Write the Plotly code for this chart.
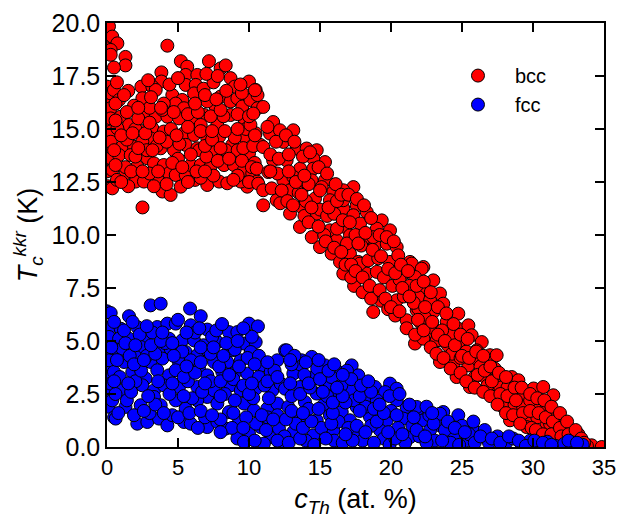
import plotly.graph_objects as go

# bcc points (c_Th in at.%, Tc in K)
bcc_points = [
    (0.0, 19.6), (0.1, 19.2), (0.05, 18.8), (0.0, 17.0), (0.05, 16.6), (0.0, 16.2), (0.1, 15.7),
    (0.0, 15.3), (0.05, 14.6), (0.0, 14.1), (0.1, 13.5), (0.0, 13.0), (0.05, 12.3),
    (0.14, 19.84), (0.37, 19.36), (0.73, 19.04), (0.26, 18.73), (0.26, 18.5), (1.3, 18.4), (1.3, 18.0),
    (0.49, 17.9), (4.25, 18.93), (5.2, 18.2), (5.65, 17.94), (7.18, 18.2), (8.0, 17.86), (8.36, 18.0),
    (5.54, 17.55), (6.36, 17.55), (3.83, 17.67), (3.83, 17.24), (8.7, 17.4), (10.0, 17.24), (10.47, 16.84),
    (2.42, 17.0), (3.19, 17.0), (3.43, 16.84), (5.54, 17.08), (6.25, 17.08), (6.13, 16.68), (0.26, 16.68),
    (0.49, 16.84), (2.49, 16.45), (1.9, 16.1), (0.85, 16.37), (4.6, 16.6), (5.3, 16.37), (4.84, 16.2),
    (5.42, 15.98), (8.0, 16.53), (8.7, 16.3), (9.18, 16.45), (9.53, 16.06), (10.1, 16.37), (10.6, 16.6),
    (7.65, 16.06), (7.06, 16.3), (6.83, 15.66), (0.26, 15.98), (0.26, 15.5), (0.96, 15.58), (1.55, 15.19),
    (2.72, 15.74), (3.43, 15.58), (4.25, 15.58), (5.07, 15.5), (6.0, 15.5), (6.6, 15.19), (7.77, 15.19),
    (8.7, 15.66), (9.65, 15.5), (10.6, 15.98), (0.26, 14.88), (0.73, 15.03), (2.25, 14.95), (3.19, 15.03),
    (4.0, 14.88), (3.07, 14.56), (5.42, 14.8), (6.13, 14.72), (7.06, 14.56), (7.9, 14.64), (8.82, 14.25),
    (9.65, 14.64), (10.47, 14.8), (10.8, 14.25), (0.26, 14.4), (1.08, 14.17), (1.9, 14.17), (2.49, 14.4),
    (3.78, 14.09), (4.72, 14.0), (5.54, 14.25), (6.36, 14.09), (7.65, 13.93), (8.36, 14.0), (10.0, 13.85),
    (0.26, 13.62), (0.85, 13.77), (1.67, 13.77), (2.13, 13.23), (2.84, 13.62), (3.31, 13.38), (4.0, 13.3),
    (4.37, 12.91), (4.84, 12.83), (5.54, 12.83), (5.9, 13.3), (6.6, 13.3), (7.3, 13.23), (8.24, 13.3),
    (8.94, 13.3), (9.65, 13.07), (10.23, 12.91), (10.58, 12.52), (9.88, 12.28), (0.37, 13.07), (0.37, 12.2),
    (1.3, 12.91), (2.02, 12.52), (2.6, 12.52), (3.66, 12.52), (3.9, 12.05), (4.48, 11.89), (5.19, 12.28),
    (7.06, 12.36), (7.9, 12.52), (8.47, 12.44), (9.42, 12.52), (2.5, 11.3),
    (1.5, 16.8), (2.0, 15.0), (3.0, 16.0), (4.0, 16.2), (6.8, 16.9), (7.5, 17.2), (9.0, 17.0), (9.8, 15.0),
    (8.2, 15.6), (6.5, 14.0), (5.0, 13.6), (3.5, 14.2), (1.3, 13.2), (0.7, 12.6), (2.8, 14.0), (7.0, 13.7),
    (9.2, 14.0), (10.4, 13.4), (9.2, 12.8), (6.2, 12.6), (4.5, 15.0), (2.0, 13.7), (1.5, 12.3), (3.0, 12.9),
    (1.0, 12.5), (3.3, 12.3), (4.2, 12.4), (5.7, 12.5), (6.6, 12.7), (7.5, 12.8), (8.9, 12.6), (10.0, 12.5),
    (0.6, 13.3), (1.7, 13.0), (2.5, 13.0), (3.6, 13.0), (4.6, 13.4), (5.3, 13.2), (6.3, 13.0), (6.9, 13.0),
    (7.8, 13.5), (8.6, 13.6), (9.5, 13.5), (10.2, 13.2),
    (0.5, 14.0), (1.4, 14.5), (2.2, 14.1), (3.2, 14.0), (4.2, 14.4), (5.1, 14.3), (5.9, 13.8), (6.9, 14.2),
    (7.4, 14.5), (8.0, 14.1), (9.0, 14.6), (9.6, 14.1), (10.3, 14.2),
    (1.0, 14.7), (1.8, 14.8), (2.7, 14.8), (3.7, 14.6), (4.9, 14.7), (5.7, 15.1), (6.6, 14.9), (7.4, 14.9),
    (8.3, 14.9), (9.2, 15.0), (10.1, 15.2),
    (0.6, 15.4), (1.4, 15.8), (2.2, 15.5), (3.0, 15.3), (3.9, 15.9), (4.7, 15.8), (5.7, 15.7), (6.4, 15.8),
    (7.3, 15.6), (8.0, 15.9), (9.2, 15.7), (10.0, 15.6),
    (0.6, 16.2), (1.2, 16.6), (2.2, 16.0), (3.1, 16.5), (3.8, 16.0), (6.2, 16.2), (6.9, 16.6), (7.7, 16.4),
    (8.4, 16.8), (9.5, 16.7), (0.7, 17.2), (2.9, 17.3), (4.4, 17.1), (5.0, 17.4), (7.0, 17.6), (7.8, 17.5),
    (9.4, 17.1),
    (10.42, 16.83), (11.0, 16.04), (10.3, 15.73), (11.7, 15.33), (11.48, 14.78), (12.18, 14.94), (13.12, 14.94),
    (10.42, 14.7), (11.0, 14.15), (12.42, 14.39), (13.36, 14.08), (14.06, 14.08), (14.77, 14.0), (15.35, 13.44),
    (14.53, 13.6), (11.7, 13.52), (12.65, 13.52), (13.6, 13.13), (14.53, 13.13), (10.54, 13.13), (11.36, 12.97),
    (12.42, 12.58), (13.12, 12.74), (14.42, 12.58), (15.35, 12.58), (15.12, 12.26), (15.94, 12.03), (17.35, 12.26),
    (16.64, 12.11), (10.65, 12.42), (11.0, 12.11), (11.0, 11.4), (11.95, 11.64), (12.89, 12.11), (13.82, 12.26),
    (12.89, 11.01), (13.71, 11.32), (14.77, 11.01), (14.65, 11.72), (15.7, 11.64), (16.64, 11.25), (17.58, 11.4),
    (18.29, 11.08), (17.35, 10.93), (13.59, 10.38), (14.42, 9.9), (15.0, 9.43), (15.7, 10.22), (16.18, 9.75),
    (16.76, 10.38), (17.11, 9.98), (17.82, 10.54), (19.35, 10.69), (19.0, 10.3), (19.93, 10.22), (18.29, 9.9),
    (18.87, 9.51), (19.7, 9.59), (20.4, 9.43), (15.82, 9.12), (16.41, 8.73), (17.11, 9.12), (17.7, 8.73),
    (18.29, 8.18), (19.0, 8.26), (19.93, 8.73), (20.51, 9.04), (21.34, 8.73), (22.28, 8.49), (16.64, 8.18),
    (20.87, 8.18), (16.64, 11.64), (18.75, 9.9), (17.82, 8.65), (18.75, 6.37),
    (19.3, 6.9), (19.8, 6.5), (20.3, 6.2), (17.4, 7.6), (18.0, 7.3), (18.6, 7.0), (17.2, 8.0),
    (21.46, 8.65), (22.16, 8.41), (21.69, 8.02), (22.98, 7.86), (22.51, 7.39), (23.45, 7.24), (21.92, 7.08),
    (22.75, 6.92), (23.68, 6.76), (21.81, 6.45), (22.98, 6.37), (24.74, 6.29), (23.92, 5.9), (22.04, 5.9),
    (22.63, 5.42), (24.74, 5.58), (25.45, 5.74), (24.27, 5.35), (23.45, 5.03), (21.69, 4.88), (22.28, 5.11),
    (24.98, 4.95), (25.68, 5.27), (26.39, 4.95), (26.04, 4.56), (26.97, 4.33), (27.44, 4.33), (23.45, 4.01),
    (24.39, 3.85), (25.45, 3.85), (26.15, 4.09), (24.62, 3.3), (25.56, 2.83), (26.62, 3.3), (27.44, 3.23),
    (28.5, 3.3), (28.97, 3.15), (27.2, 2.52), (28.38, 2.36), (29.32, 2.44), (30.04, 2.76), (30.72, 2.83),
    (31.43, 2.44), (28.03, 1.89), (28.97, 1.42), (29.67, 1.42), (30.26, 1.97), (30.96, 1.73), (30.96, 1.1),
    (29.55, 0.94), (31.78, 0.71), (32.25, 0.94), (32.84, 0.47), (34.13, 0.08), (34.84, 0.0), (28.38, 1.26),
    (32.37, 0.4), (20.4, 6.92), (21.1, 5.98), (21.92, 6.53), (23.22, 5.03), (27.9, 1.89), (31.2, 1.1),
    (32.13, 0.94), (33.0, 0.3), (33.5, 0.15), (32.0, 0.2), (31.5, 0.4), (30.5, 0.5), (33.8, 0.05),
    (11.5, 13.8), (12.0, 12.9), (12.8, 13.0), (13.5, 12.0), (14.0, 11.6), (14.2, 12.4), (15.0, 11.2),
    (15.5, 10.9), (16.0, 11.0), (16.2, 10.3), (16.9, 9.6), (17.5, 10.0), (17.9, 9.5), (18.4, 8.8),
    (19.1, 8.9), (19.5, 8.0), (20.1, 7.6), (20.6, 7.9), (20.9, 7.1), (21.3, 7.6), (21.6, 6.8), (22.4, 6.1),
    (23.0, 5.6), (23.6, 5.5), (24.0, 4.8), (24.3, 4.4), (24.9, 4.2), (25.3, 4.5), (25.9, 3.3), (26.3, 3.8),
    (26.8, 2.9), (27.3, 3.7), (27.7, 2.8), (28.2, 2.8), (28.7, 2.0), (29.3, 1.9), (29.8, 2.2), (30.3, 1.4),
    (31.0, 2.0), (31.7, 1.5), (32.0, 1.3), (32.6, 0.8), (33.2, 0.6), (13.9, 10.9), (12.2, 11.5), (15.3, 10.0),
    (16.8, 8.6),
    (11.3, 15.1), (11.5, 13.0), (11.6, 12.2), (11.9, 14.4), (12.1, 13.6), (12.3, 12.1), (12.6, 14.7),
    (12.8, 13.8), (12.7, 11.6), (13.2, 14.4), (13.3, 12.5), (13.1, 11.4), (13.8, 13.7), (13.9, 12.8),
    (13.7, 11.9), (14.3, 13.9), (14.4, 11.3), (14.2, 10.6), (14.9, 13.2), (15.0, 12.1), (14.9, 10.4),
    (15.5, 12.9), (15.6, 11.3), (15.4, 9.7), (16.1, 12.4), (16.2, 11.6), (16.0, 9.4), (16.5, 11.9),
    (16.6, 10.7), (16.5, 9.2), (17.0, 11.9), (17.1, 10.6), (17.2, 8.6), (17.6, 11.7), (17.7, 9.6),
    (17.5, 8.3), (18.1, 11.4), (18.2, 10.1), (18.0, 8.0), (18.6, 10.8), (18.7, 9.3), (18.5, 7.6),
    (19.2, 10.0), (19.3, 9.0), (19.2, 7.4), (19.7, 9.9), (19.8, 8.4), (19.6, 7.0), (20.2, 9.7),
    (20.3, 8.2), (20.0, 6.6), (20.7, 8.6), (20.8, 7.5), (20.6, 6.4), (21.2, 8.3), (21.3, 7.1),
    (21.1, 5.6), (21.8, 7.6), (21.9, 6.0), (21.7, 5.3), (22.3, 7.8), (22.4, 6.6), (22.3, 5.5),
    (22.8, 7.3), (22.9, 5.9), (22.8, 4.7), (23.3, 6.6), (23.3, 5.3), (23.2, 4.4), (23.9, 6.3),
    (23.8, 5.0), (23.7, 4.2), (24.4, 5.8), (24.5, 4.8), (24.2, 3.7), (24.9, 5.3), (25.0, 4.3),
    (24.9, 3.5), (25.4, 5.1), (25.5, 4.2), (25.3, 3.1), (26.0, 4.5), (26.1, 3.4), (25.9, 2.8),
    (26.5, 4.3), (26.6, 3.6), (26.5, 2.6), (27.0, 3.8), (27.1, 3.1), (27.0, 2.4), (27.6, 3.5),
    (27.7, 2.5), (27.5, 2.0), (28.1, 3.3), (28.2, 2.4), (28.1, 1.6), (28.7, 2.8), (28.8, 2.2),
    (28.6, 1.5), (29.2, 2.8), (29.3, 1.6), (29.1, 1.1), (29.8, 2.5), (29.8, 1.7), (29.9, 0.9),
    (30.3, 2.3), (30.4, 1.6), (30.2, 0.8), (30.8, 2.2), (30.9, 1.4), (30.7, 0.6), (31.3, 1.9),
    (31.4, 1.2), (31.3, 0.6), (31.9, 1.6), (31.9, 0.9), (32.0, 0.5), (32.4, 1.2), (32.5, 0.6),
    (32.7, 0.2), (33.0, 0.8), (33.4, 0.4), (33.6, 0.2),
]

# fcc points
fcc_points = [
    (0.0, 6.4), (0.05, 5.3), (0.0, 4.9), (0.1, 4.5), (0.0, 4.0), (0.05, 3.7), (0.0, 3.3), (0.1, 2.8),
    (0.0, 2.2), (0.1, 1.9), (0.5, 1.4),
    (0.26, 6.32), (3.07, 6.68), (3.78, 6.76), (5.85, 6.53), (1.55, 6.17), (6.6, 6.17), (0.26, 5.66),
    (0.96, 5.58), (2.13, 5.66), (3.54, 5.66), (4.25, 5.82), (4.84, 5.82), (5.9, 5.74), (7.06, 5.54),
    (8.59, 5.42), (9.18, 5.42), (10.0, 5.82), (10.63, 5.69), (0.14, 5.19), (0.85, 5.11), (1.55, 5.11),
    (2.6, 5.03), (4.37, 5.11), (5.3, 5.03), (6.13, 5.03), (7.77, 4.95), (9.65, 4.88), (10.47, 4.95),
    (0.49, 4.64), (1.08, 4.64), (2.37, 4.72), (3.66, 4.56), (4.48, 4.64), (5.54, 4.48), (6.36, 4.33),
    (7.06, 4.56), (8.82, 4.56), (10.12, 4.48), (0.14, 4.09), (1.2, 4.01), (2.02, 4.25), (3.08, 4.01),
    (3.9, 4.17), (5.07, 4.01), (5.9, 4.09), (7.54, 4.01), (8.47, 4.01), (9.42, 4.09), (10.94, 3.85),
    (11.99, 4.09), (0.49, 3.54), (1.78, 3.54), (2.72, 3.23), (3.54, 3.62), (4.37, 3.38), (4.84, 3.62),
    (6.48, 3.7), (7.06, 3.38), (8.12, 3.54), (9.06, 3.54), (9.88, 3.46), (10.7, 3.3), (11.53, 3.54),
    (0.26, 2.99), (1.08, 2.67), (2.49, 2.91), (3.31, 2.67), (4.0, 2.91), (5.07, 2.83), (6.36, 2.83),
    (7.06, 2.36), (7.54, 2.67), (8.71, 2.91), (9.42, 2.67), (10.47, 2.75), (11.64, 2.67), (12.23, 2.99),
    (0.37, 2.2), (1.3, 1.89), (2.37, 1.97), (3.31, 2.36), (3.78, 1.97), (4.84, 2.2), (5.54, 1.81),
    (6.36, 2.2), (7.77, 2.05), (8.59, 1.65), (9.65, 2.05), (10.35, 1.73), (11.29, 1.81), (11.99, 2.05),
    (0.61, 1.34), (2.13, 1.1), (2.84, 1.18), (3.66, 1.34), (4.25, 1.02), (5.42, 1.18), (5.9, 1.1),
    (7.06, 0.94), (7.77, 1.18), (8.36, 0.87), (9.18, 0.4), (10.0, 0.63), (10.82, 0.94), (11.53, 0.47),
    (12.11, 0.87), (12.23, 0.08), (11.05, 0.16), (9.65, 0.24),
    (12.54, 4.56), (12.65, 4.56), (13.71, 4.09), (14.42, 4.25), (15.35, 3.85), (16.29, 3.54), (17.23, 3.85),
    (17.7, 3.38), (16.76, 3.15), (15.59, 2.99), (14.53, 3.3), (13.12, 3.46), (12.54, 2.75), (13.59, 2.83),
    (14.77, 2.52), (16.06, 2.44), (17.11, 2.67), (18.87, 2.83), (19.93, 2.99), (20.4, 2.75), (19.58, 2.59),
    (18.29, 2.36), (21.1, 1.89), (21.81, 1.73), (20.4, 2.2), (17.58, 1.89), (16.53, 1.65), (15.24, 1.97),
    (13.94, 2.12), (12.77, 1.89), (13.59, 1.42), (14.77, 1.26), (15.7, 1.5), (17.11, 1.26), (18.52, 1.42),
    (19.7, 1.26), (20.87, 1.34), (22.28, 1.26), (23.68, 1.65), (24.74, 1.5), (23.45, 1.02), (13.12, 0.71),
    (14.53, 0.55), (15.94, 0.79), (17.58, 0.63), (19.23, 0.79), (21.34, 0.47), (22.75, 0.79), (24.39, 0.55),
    (25.8, 0.79), (21.81, 1.89), (23.45, 1.57),
    (0.5, 5.9), (0.3, 4.7), (0.9, 3.3), (1.4, 2.2), (1.6, 4.3), (2.0, 3.1), (2.3, 5.3), (2.8, 4.3),
    (3.2, 5.4), (3.0, 1.6), (3.4, 2.0), (4.6, 1.5), (4.1, 4.9), (5.0, 6.0), (5.3, 4.5), (5.7, 3.1),
    (6.0, 2.3), (6.2, 5.4), (6.8, 4.8), (6.9, 1.4), (7.3, 3.1), (7.4, 5.2), (7.9, 3.8), (8.0, 1.3),
    (8.3, 2.5), (8.9, 3.2), (9.0, 4.6), (9.3, 1.2), (9.6, 2.9), (9.9, 4.2), (10.3, 2.3), (10.5, 1.1),
    (10.7, 4.3), (11.1, 2.9), (11.3, 1.4), (11.8, 3.6), (12.0, 1.5), (12.5, 0.5), (13.0, 2.4), (13.3, 1.1),
    (13.6, 3.9), (14.0, 0.3), (14.2, 1.8), (14.8, 3.7), (15.1, 0.9), (15.5, 2.4), (16.0, 0.3), (16.3, 1.2),
    (16.5, 2.9), (17.0, 0.9), (17.4, 2.2), (18.0, 0.3), (18.2, 1.9), (18.6, 1.0), (19.0, 2.2), (19.5, 0.4),
    (20.0, 1.7), (20.5, 0.9), (21.0, 0.2), (21.5, 1.0), (22.0, 0.5), (22.7, 1.5), (23.1, 0.3), (23.8, 0.8),
    (24.2, 0.2), (25.0, 1.0), (25.3, 0.3), (26.0, 0.4), (26.6, 0.8), (26.9, 0.2), (27.5, 0.5), (28.1, 0.2),
    (28.6, 0.4), (29.2, 0.1), (29.8, 0.3), (30.4, 0.1), (31.0, 0.25), (31.6, 0.05), (32.2, 0.15), (32.9, 0.05),
    (33.5, 0.1), (16.9, 3.6), (19.9, 2.4), (21.3, 2.0), (22.5, 1.9), (14.0, 4.0), (15.8, 3.3), (13.2, 4.3),
    (24.0, 1.2), (25.8, 1.2),
    (0.8, 1.6), (1.9, 1.5), (2.6, 1.7), (4.0, 1.6), (5.0, 1.4), (5.8, 1.6), (6.6, 1.7), (7.4, 1.5),
    (8.9, 1.6), (9.8, 1.4), (10.9, 1.5), (11.7, 1.3),
    (0.6, 2.5), (1.7, 2.6), (2.9, 2.4), (4.4, 2.5), (5.4, 2.4), (6.7, 2.6), (8.0, 2.4), (9.0, 2.2),
    (10.0, 2.5), (11.4, 2.3),
    (0.5, 3.1), (1.5, 3.0), (2.4, 3.6), (3.6, 3.1), (4.6, 3.0), (5.4, 3.3), (6.2, 3.5), (6.9, 3.0),
    (8.0, 3.1), (8.6, 3.4), (10.2, 3.0), (11.3, 3.1), (12.0, 3.3),
    (0.7, 4.1), (1.9, 3.9), (2.6, 4.1), (3.4, 4.4), (4.7, 4.3), (5.6, 3.8), (6.6, 4.0), (7.3, 4.4),
    (8.2, 4.3), (9.3, 3.8), (10.4, 3.9), (11.3, 4.0),
    (1.3, 4.9), (2.0, 4.8), (3.1, 4.8), (3.8, 5.0), (4.6, 4.9), (6.6, 4.7), (7.5, 4.7), (8.4, 4.9),
    (9.2, 5.0), (10.2, 5.2),
    (1.2, 5.5), (1.8, 5.9), (2.8, 5.7), (3.9, 5.4), (5.6, 5.4), (6.5, 5.6), (7.7, 5.5), (8.1, 5.8),
    (9.6, 5.6),
    (6.4, 0.9), (8.8, 0.9), (9.6, 0.9), (10.4, 0.3), (11.2, 0.8), (12.0, 0.3), (8.0, 0.7),
    (12.8, 0.2), (13.6, 0.4), (14.6, 0.1), (15.4, 0.4), (16.6, 0.2), (17.3, 0.3), (18.8, 0.2), (19.9, 0.1),
    (20.3, 0.4), (22.5, 0.2), (23.6, 0.3), (24.8, 0.1),
    (12.6, 1.3), (13.8, 0.9), (14.4, 1.2), (15.8, 1.1), (16.8, 0.6), (17.6, 1.0), (18.2, 0.7), (19.0, 1.2),
    (19.8, 0.7), (20.8, 0.6), (21.8, 0.8), (22.4, 0.5), (23.0, 1.1), (24.5, 0.9), (25.5, 0.6),
    (13.0, 1.7), (13.8, 1.6), (14.9, 1.8), (15.9, 1.6), (16.8, 2.1), (17.8, 1.7), (18.8, 1.8), (19.5, 1.6),
    (20.4, 1.5), (21.6, 1.4), (22.9, 1.6),
    (12.9, 3.0), (13.6, 2.5), (14.3, 2.8), (15.2, 2.6), (15.9, 2.1), (16.6, 2.4), (17.8, 2.4), (18.6, 2.6),
    (19.2, 2.0), (20.6, 2.5),
    (13.0, 3.9), (13.9, 3.4), (14.2, 3.0), (15.0, 3.2), (15.6, 3.6), (16.2, 2.8), (17.2, 3.2), (17.9, 2.9),
    (18.4, 3.1), (12.9, 4.1), (14.9, 4.1), (16.0, 3.9), (16.6, 3.4),
    (25.2, 0.7), (25.9, 0.2), (26.3, 0.5), (27.1, 0.4), (27.7, 0.2), (28.3, 0.5), (29.0, 0.3), (29.5, 0.05),
    (30.1, 0.3), (30.7, 0.2), (31.3, 0.1), (32.5, 0.3), (33.1, 0.2),
]

series_names = ["bcc", "fcc"]
series_colors = ["#ff0000", "#0000ff"]

x_ticks = [0, 5, 10, 15, 20, 25, 30, 35]
y_ticks = [0.0, 2.5, 5.0, 7.5, 10.0, 12.5, 15.0, 17.5, 20.0]

FONT = "Arial, Liberation Sans, Helvetica, sans-serif"

fig = go.Figure()
for name, pts, col in zip(series_names, [bcc_points, fcc_points], series_colors):
    fig.add_trace(go.Scatter(
        x=[p[0] for p in pts], y=[p[1] for p in pts],
        mode="markers", name=name, cliponaxis=True,
        marker=dict(size=13, color=col, line=dict(color="black", width=1)),
    ))

axis_common = dict(
    showline=True, linecolor="black", linewidth=1.5, mirror="ticks",
    ticks="inside", ticklen=9, tickwidth=1.5, tickcolor="black",
    showgrid=False, zeroline=False, automargin=False,
)

fig.update_xaxes(range=[0, 35], tickvals=x_ticks, **axis_common,
                 tickfont=dict(family=FONT, size=22, color="black"),
                 title=dict(text="<i>c</i><sub><i>Th</i></sub> (at. %)",
                            font=dict(family=FONT, size=27, color="black"), standoff=10))
fig.update_yaxes(range=[0, 20], tickvals=y_ticks, tickformat=".1f", **axis_common,
                 tickfont=dict(family=FONT, size=25, color="black"),
                 title=dict(text="<i>T</i><sub><i>c</i></sub><sup><i>kkr</i></sup> (K)",
                            font=dict(family=FONT, size=27, color="black"), standoff=6))

fig.update_layout(
    width=617, height=525,
    margin=dict(l=107, r=13, t=23, b=78),
    paper_bgcolor="white", plot_bgcolor="white",
    font=dict(family=FONT, color="black"),
    legend=dict(x=0.672, y=0.922, xanchor="left", yanchor="top",
                font=dict(family=FONT, size=20, color="black"),
                itemwidth=64, bgcolor="rgba(0,0,0,0)", tracegroupgap=0),
)

fig.write_html(
    "out.html",
    config={"displayModeBar": False},
    post_script="document.body.style.margin='0px';document.body.style.padding='0px';",
)
